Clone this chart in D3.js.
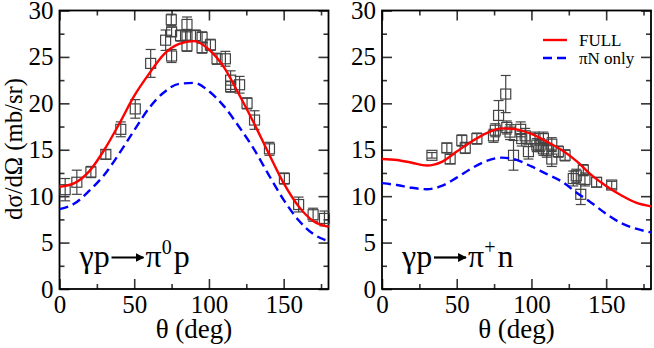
<!DOCTYPE html>
<html>
<head>
<meta charset="utf-8">
<script src="https://cdn.jsdelivr.net/npm/d3@7"></script>
<style>
  body { margin: 0; background: #fff; }
  svg { display: block; }
</style>
</head>
<body>
<svg id="chart" width="654" height="348"></svg>
<script>
// theory curves sampled every 10 degrees
const angles = [0, 10, 20, 30, 40, 50, 60, 70, 80, 90, 100, 110, 120, 130, 140, 150, 160, 170, 180]

const fullPi0 = [11.0, 11.4, 12.7, 15.0, 17.8, 20.8, 23.2, 25.3, 26.4, 26.7, 25.8, 23.9, 21.0, 17.9, 14.6, 11.4, 8.9, 7.3, 6.7]
const piNPi0 = [8.6, 9.2, 10.6, 12.3, 14.6, 17.1, 19.5, 21.2, 22.1, 22.2, 21.3, 19.7, 17.5, 15.1, 12.3, 9.6, 7.4, 5.9, 5.15]

const fullPiPlus = [14.0, 13.9, 13.6, 13.3, 13.7, 14.8, 15.9, 16.8, 17.3, 17.2, 16.7, 15.9, 15.0, 13.8, 12.3, 11.1, 10.1, 9.3, 8.9]
const piNPiPlus = [11.4, 11.2, 10.9, 10.75, 11.1, 12.0, 13.0, 13.8, 14.15, 13.9, 13.2, 12.4, 11.6, 10.4, 9.3, 8.1, 7.1, 6.5, 6.1]

// measured points: [theta, dsigma/dOmega, error]
const dataPi0 = [
  [3.8, 10.7, 1.2], [11.6, 11.5, 1.3], [21, 12.6, 0.6], [31, 14.5, 0.5],
  [41, 17.2, 0.8], [50.7, 19.4, 1.0], [61, 24.3, 1.5], [71, 26.8, 1.1],
  [74.8, 29.0, 0.6], [75, 27.7, 0.5], [75, 25.1, 0.7], [81, 27.3, 0.6],
  [85.3, 28.5, 0.8], [85.3, 27.3, 0.6], [85.3, 26.2, 0.6], [91, 27.3, 0.6],
  [95.4, 27.1, 0.6], [95.4, 26.0, 0.6], [101, 26.3, 0.6], [105.4, 24.8, 0.6],
  [111, 24.8, 0.8], [114.5, 22.5, 1.0], [114.5, 21.8, 0.6], [120.5, 22.0, 0.9],
  [125.5, 20.0, 0.6], [130.5, 18.2, 1.0], [140.5, 15.1, 0.7], [150.5, 11.9, 0.6],
  [160, 9.1, 0.8], [169.7, 8.0, 0.7], [177.3, 7.6, 0.8]
]

const dataPiPlus = [
  [33.4, 14.4, 0.3], [43.4, 15.2, 0.5], [45.6, 14.0, 0.5], [53.4, 16.0, 0.6],
  [55.7, 15.2, 0.6], [63.5, 16.2, 0.6], [74.6, 16.5, 0.7], [75.8, 17.1, 0.7],
  [78, 18.7, 1.6], [82.8, 21.0, 2.0], [83.5, 17.4, 0.7], [85.7, 16.9, 0.8],
  [88, 14.4, 1.6], [92.8, 17.2, 0.8], [93.5, 16.2, 0.8], [95.8, 16.5, 0.8],
  [98, 14.8, 0.8], [102.4, 16.2, 0.7], [103.6, 15.5, 0.7], [105.8, 15.5, 0.7],
  [108, 16.2, 0.7], [108, 15.1, 0.7], [110.3, 14.9, 0.7], [113.6, 15.6, 0.7],
  [113.6, 14.0, 0.8], [118, 14.8, 0.6], [122.5, 14.4, 0.6], [128, 11.9, 0.8],
  [130, 12.2, 0.7], [133, 10.2, 1.1], [134.7, 12.8, 0.6], [135.8, 11.8, 0.7],
  [143.6, 11.5, 0.5], [153.7, 11.2, 0.4]
]

const xTicks = [0, 50, 100, 150]
const xMinor = [25, 75, 125, 175]
const yTicks = [0, 5, 10, 15, 20, 25, 30]
const yMinor = [2.5, 7.5, 12.5, 17.5, 22.5, 27.5]

const legendLabels = ['FULL', 'πN only']

const serif = 'font-family: "Liberation Serif", "Times New Roman", Times, serif'

const svg = d3.select('#chart')

// arrowhead for the reaction labels
svg.append('defs').append('marker')
  .attr('id', 'arrow')
  .attr('viewBox', '0 0 10 10')
  .attr('refX', 9).attr('refY', 5)
  .attr('markerWidth', 4).attr('markerHeight', 4)
  .attr('orient', 'auto')
  .append('path')
  .attr('d', 'M0,0 L10,5 L0,10 z')
  .attr('fill', '#000')

const panels = [
  { left: 59.5, full: fullPi0, piN: piNPi0, data: dataPi0, sup: '0', last: 'p', ylabel: true },
  { left: 382, full: fullPiPlus, piN: piNPiPlus, data: dataPiPlus, sup: '+', last: 'n', legend: true }
]

const plotTop = 10.5
const plotW = 269
const plotH = 278.5

// shrink or grow a text so it spans a given length
function fitText(sel, target, size) {
  const len = sel.node().getComputedTextLength()
  if (len > 0) sel.style('font-size', (size * target / len).toFixed(2) + 'px')
}

panels.forEach((p) => {
  const g = svg.append('g').attr('transform', `translate(${p.left},${plotTop})`)

  const x = d3.scaleLinear().domain([0, 180]).range([0, plotW])
  const y = d3.scaleLinear().domain([0, 30]).range([plotH, 0])

  // ticks on all four sides, pointing inward
  const axes = [
    d3.axisBottom(x).tickValues(xTicks).tickSize(-10).tickPadding(6).tickFormat(d3.format('d')),
    d3.axisTop(x).tickValues(xTicks).tickSize(-10).tickFormat(''),
    d3.axisLeft(y).tickValues(yTicks).tickSize(-10).tickPadding(6).tickFormat(d3.format('d')),
    d3.axisRight(y).tickValues(yTicks).tickSize(-10).tickFormat('')
  ]
  const minor = [
    d3.axisBottom(x).tickValues(xMinor).tickSize(-5).tickFormat(''),
    d3.axisTop(x).tickValues(xMinor).tickSize(-5).tickFormat(''),
    d3.axisLeft(y).tickValues(yMinor).tickSize(-5).tickFormat(''),
    d3.axisRight(y).tickValues(yMinor).tickSize(-5).tickFormat('')
  ]
  const shift = ['translate(0,' + plotH + ')', null, null, 'translate(' + plotW + ',0)']

  axes.concat(minor).forEach((ax, i) => {
    const a = g.append('g').call(ax)
    if (shift[i % 4]) a.attr('transform', shift[i % 4])
    a.attr('font-family', null)
    a.select('.domain').remove()
    a.selectAll('line').attr('stroke', '#333').attr('stroke-width', 1.6)
    a.selectAll('text').attr('style', serif + '; font-size: 25px').attr('fill', '#000')
  })

  // frame
  g.append('rect')
    .attr('width', plotW).attr('height', plotH)
    .attr('fill', 'none').attr('stroke', '#000').attr('stroke-width', 1.8)

  // data: error bars then open squares
  const pts = g.append('g')
  p.data.forEach((d) => {
    const cx = x(d[0])
    const cy = y(d[1])
    const y0 = y(d[1] - d[2])
    const y1 = y(d[1] + d[2])
    pts.append('line').attr('x1', cx).attr('x2', cx).attr('y1', y0).attr('y2', y1)
    pts.append('line').attr('x1', cx - 5).attr('x2', cx + 5).attr('y1', y0).attr('y2', y0)
    pts.append('line').attr('x1', cx - 5).attr('x2', cx + 5).attr('y1', y1).attr('y2', y1)
    pts.append('rect').attr('x', cx - 5).attr('y', cy - 5).attr('width', 10).attr('height', 10)
  })
  pts.selectAll('line').attr('stroke', '#444').attr('stroke-width', 1.2)
  pts.selectAll('rect').attr('fill', 'none').attr('stroke', '#444').attr('stroke-width', 1.2)

  const line = d3.line()
    .x((d, i) => x(angles[i]))
    .y((d) => y(d))
    .curve(d3.curveMonotoneX)

  g.append('path').datum(p.piN)
    .attr('d', line).attr('fill', 'none')
    .attr('stroke', '#0000ff').attr('stroke-width', 2.4).attr('stroke-dasharray', '9,5')

  g.append('path').datum(p.full)
    .attr('d', line).attr('fill', 'none')
    .attr('stroke', '#ff0000').attr('stroke-width', 2.4)

  // reaction label
  const lab = g.append('g').attr('transform', 'translate(20,256)')
  lab.append('text').attr('style', serif + '; font-size: 32px').text('γp')
  lab.append('line')
    .attr('x1', 32).attr('x2', 64).attr('y1', -9).attr('y2', -9)
    .attr('stroke', '#000').attr('stroke-width', 2.2)
    .attr('marker-end', 'url(#arrow)')
  const rt = lab.append('text').attr('x', 66).attr('style', serif + '; font-size: 32px')
  rt.append('tspan').text('π')
  rt.append('tspan').attr('dy', -13).attr('style', 'font-size: 20px').text(p.sup)
  rt.append('tspan').attr('dy', 13).attr('dx', 2).attr('style', 'font-size: 32px').text(p.last)

  // x title
  g.append('text')
    .attr('x', plotW / 2).attr('y', 338 - plotTop)
    .attr('text-anchor', 'middle').attr('style', serif + '; font-size: 27px')
    .text('θ (deg)')

  if (p.ylabel) {
    const yt = g.append('text')
      .attr('transform', `translate(${22 - p.left},${149 - plotTop}) rotate(-90)`)
      .attr('text-anchor', 'middle').attr('style', serif + '; font-size: 24px')
      .text('dσ/dΩ (mb/sr)')
    fitText(yt, 142, 24)
  }

  if (p.legend) {
    const leg = g.append('g').attr('transform', `translate(${543 - p.left},${40 - plotTop})`)
    const styles = [
      { color: '#ff0000', dash: null },
      { color: '#0000ff', dash: '9,5' }
    ]
    legendLabels.forEach((t, i) => {
      leg.append('line')
        .attr('x1', 0).attr('x2', 24).attr('y1', i * 18).attr('y2', i * 18)
        .attr('stroke', styles[i].color).attr('stroke-width', 2.4)
        .attr('stroke-dasharray', styles[i].dash)
      leg.append('text')
        .attr('x', 36).attr('y', i * 18 + 6)
        .attr('style', serif + '; font-size: 17px')
        .text(t)
    })
  }
})
</script>
</body>
</html>
